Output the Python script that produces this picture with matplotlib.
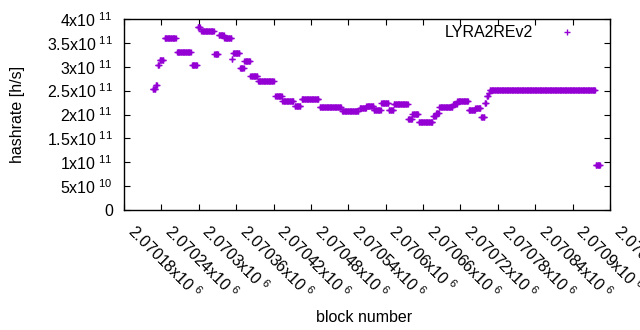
import numpy as np
import matplotlib
matplotlib.use("Agg")
import matplotlib.pyplot as plt

plt.rcParams['font.family'] = ['Liberation Sans', 'DejaVu Sans']
plt.rcParams['mathtext.fontset'] = 'custom'
plt.rcParams['mathtext.rm'] = 'Liberation Sans'
plt.rcParams['mathtext.default'] = 'regular'

# ------------------------------
# data: hashrate constant over block ranges (offset from 2070180)
# ------------------------------
base_block = 2070180
seg_start = [46, 51, 54, 57, 65, 85, 109, 118, 124, 145, 152, 161, 173, 175, 186, 193,
             203, 215, 243, 254, 274, 285, 314, 350, 378, 389, 401, 413, 425, 433, 456,
             463, 473, 496, 501, 506, 517, 528, 535, 553, 564, 573, 579, 582, 585, 587, 757]
seg_end = [50, 53, 56, 63, 83, 107, 117, 122, 144, 151, 160, 172, 174, 185, 192, 202,
           214, 240, 253, 272, 283, 312, 348, 376, 388, 400, 412, 424, 432, 455, 462,
           472, 495, 500, 505, 516, 527, 534, 552, 563, 572, 578, 581, 584, 586, 756, 764]
seg_hash = [2.53, 2.62, 3.03, 3.15, 3.61, 3.30, 3.04, 3.84, 3.74, 3.26, 3.66, 3.60, 3.16, 3.28,
            2.98, 3.11, 2.81, 2.70, 2.38, 2.29, 2.18, 2.32, 2.15, 2.07, 2.13, 2.17, 2.10, 2.24,
            2.10, 2.21, 1.90, 2.01, 1.84, 1.96, 2.04, 2.16, 2.15, 2.23, 2.28, 2.09, 2.13, 1.94,
            2.24, 2.38, 2.46, 2.51, 0.94]  # x1e11

xticks = [2070180 + 60 * i for i in range(14)]
xtick_labels = ['2.07018', '2.07024', '2.0703', '2.07036', '2.07042', '2.07048', '2.07054',
                '2.0706', '2.07066', '2.07072', '2.07078', '2.07084', '2.0709', '2.07096']
yticks = [0, 0.5e11, 1e11, 1.5e11, 2e11, 2.5e11, 3e11, 3.5e11, 4e11]
ytick_labels = ['0', '5x10$^{\\ 10}$', '1x10$^{\\ 11}$', '1.5x10$^{\\ 11}$', '2x10$^{\\ 11}$',
                '2.5x10$^{\\ 11}$', '3x10$^{\\ 11}$', '3.5x10$^{\\ 11}$', '4x10$^{\\ 11}$']

blocks = []
hashrate = []
for s, e, h in zip(seg_start, seg_end, seg_hash):
    for b in range(s, e + 1):
        blocks.append(base_block + b)
        hashrate.append(h * 1e11)

# ------------------------------
# plot
# ------------------------------
fs = 11.5
fig = plt.figure(figsize=(6.4, 3.3), dpi=100)
ax = fig.add_axes([124 / 640, 1 - 210 / 330, (610 - 124) / 640, (210 - 19) / 330])

ax.plot(blocks, hashrate, linestyle='none', marker='+', ms=5, mew=1,
        color='#9400d3', label='LYRA2REv2')

ax.set_xlim(2070180, 2070960)
ax.set_ylim(0, 4e11)
ax.set_xticks(xticks)
ax.set_xticklabels([l + 'x10$^{\\ 6}$' for l in xtick_labels], rotation=-45,
                   ha='left', va='bottom', rotation_mode='anchor', fontsize=fs)
ax.set_yticks(yticks)
ax.set_yticklabels(ytick_labels, fontsize=fs)
ax.tick_params(direction='in', length=4, width=0.8, top=True, right=True)
ax.tick_params(axis='y', pad=8)
ax.tick_params(axis='x', pad=18)
for sp in ax.spines.values():
    sp.set_linewidth(1)

ax.set_ylabel('hashrate [h/s]', fontsize=fs)
ax.yaxis.set_label_coords(-0.204, 0.5)
ax.set_xlabel('block number', fontsize=fs)
ax.xaxis.set_label_coords(0.494, -0.525)

ax.legend(loc='upper right', frameon=False, markerfirst=False, fontsize=fs,
          bbox_to_anchor=(0.949, 1.0), borderaxespad=0, handlelength=1.5,
          handletextpad=1.4)

fig.savefig('out.png', dpi=100)
